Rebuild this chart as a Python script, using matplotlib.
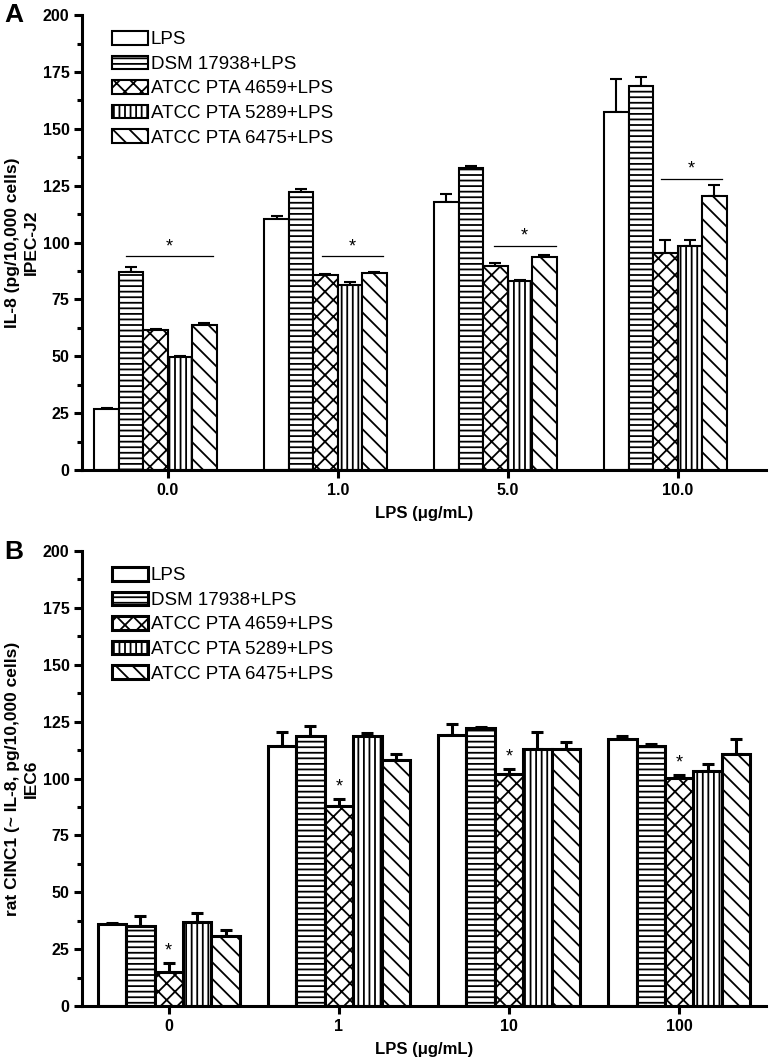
import matplotlib
matplotlib.use("Agg")
import matplotlib.pyplot as plt
import numpy as np
from matplotlib.ticker import MultipleLocator

plt.rcParams['font.family'] = ['Liberation Sans', 'DejaVu Sans']
plt.rcParams['hatch.linewidth'] = 1.3

series = ['LPS', 'DSM 17938+LPS', 'ATCC PTA 4659+LPS', 'ATCC PTA 5289+LPS', 'ATCC PTA 6475+LPS']
hatches = ['', '---', 'xx', '|||', '\\\\']

# panel A: IPEC-J2
groups_a = ['0.0', '1.0', '5.0', '10.0']
means_a = [
    [27.0, 110.3, 117.9, 157.4],
    [87.0, 122.1, 132.9, 168.9],
    [61.5, 85.7, 89.7, 95.3],
    [49.5, 81.3, 83.1, 98.6],
    [63.8, 86.8, 93.6, 120.3],
]
errs_a = [
    [0.5, 1.3, 3.4, 14.5],
    [2.2, 1.3, 0.9, 4.0],
    [0.7, 0.4, 1.3, 5.8],
    [0.5, 1.2, 0.6, 2.7],
    [1.0, 0.4, 0.9, 5.0],
]
sig_a = [93.9, 93.9, 98.5, 127.9]

# panel B: IEC6
groups_b = ['0', '1', '10', '100']
means_b = [
    [36.0, 114.2, 119.0, 117.3],
    [35.1, 118.9, 122.0, 114.4],
    [14.8, 87.9, 101.8, 100.3],
    [37.0, 118.6, 112.8, 103.4],
    [30.8, 108.0, 113.0, 110.6],
]
errs_b = [
    [0.4, 6.3, 4.9, 1.3],
    [4.3, 4.3, 0.5, 1.0],
    [4.0, 3.3, 2.6, 1.2],
    [3.7, 1.4, 7.7, 3.1],
    [2.7, 3.0, 2.9, 6.8],
]

fig = plt.figure(figsize=(7.69, 10.63), dpi=100)
ax_a = fig.add_axes([0.1066, 0.5578, 0.8894, 0.4280])
ax_b = fig.add_axes([0.1066, 0.0536, 0.8894, 0.4280])


def draw(ax, groups, means, errs, lw, w, shift, xlim, ylabel):
    x = np.arange(len(groups))
    for i in range(len(series)):
        pos = x + (i - 2 + shift) * w
        ax.bar(pos, means[i], w, color='white', edgecolor='black', linewidth=lw,
               hatch=hatches[i], label=series[i], zorder=2)
        ax.errorbar(pos, means[i], yerr=[np.zeros(len(groups)), errs[i]], fmt='none',
                    ecolor='black', elinewidth=lw, capsize=4.5, capthick=lw, zorder=1)
    ax.set_xlim(*xlim)
    ax.set_ylim(0, 200)
    ax.set_xticks(x)
    ax.set_xticklabels(groups)
    ax.yaxis.set_major_locator(MultipleLocator(25))
    ax.yaxis.set_minor_locator(MultipleLocator(12.5))
    for s in ['top', 'right']:
        ax.spines[s].set_visible(False)
    for s in ['left', 'bottom']:
        ax.spines[s].set_linewidth(2.2)
    ax.tick_params(axis='both', which='major', width=2.2, length=6, labelsize=11.5, pad=3)
    ax.tick_params(axis='y', which='minor', width=2.2, length=3.5)
    ax.tick_params(axis='x', which='minor', length=0)
    for t in ax.get_xticklabels() + ax.get_yticklabels():
        t.set_fontweight('bold')
    ax.set_xlabel('LPS (μg/mL)', fontsize=12, fontweight='bold', labelpad=6)
    ax.set_ylabel(ylabel, fontsize=12.5, fontweight='bold', labelpad=3, linespacing=1.25)
    leg = ax.legend(loc='upper left', bbox_to_anchor=(0.044, 0.965), frameon=False,
                    fontsize=13.5, handlelength=1.9, handleheight=0.75, handletextpad=0.15,
                    labelspacing=0.38, borderpad=0, borderaxespad=0)
    for p in leg.get_patches():
        p.set_linewidth(lw)


# panel A ticks sit at the right edge of the 4659 bar, panel B ticks at its centre
draw(ax_a, groups_a, means_a, errs_a, 1.5, 0.144, -0.5, (-0.505, 3.52),
     'IL-8 (pg/10,000 cells)\nIPEC-J2')
draw(ax_b, groups_b, means_b, errs_b, 2.2, 0.167, 0.0, (-0.51, 3.51),
     'rat CINC1 (~ IL-8, pg/10,000 cells)\nIEC6')

# significance bars in panel A
spans = [(-0.247, 0.264), (-0.094, 0.264), (-0.082, 0.282), (-0.10, 0.26)]
for g, (lo, hi) in enumerate(spans):
    ax_a.plot([g + lo, g + hi], [sig_a[g], sig_a[g]], color='black', lw=0.9)
    ax_a.text(g + (lo + hi) / 2, sig_a[g] + 0.5, '*', ha='center', va='bottom', fontsize=13)

# stars above ATCC PTA 4659 in panel B
for g in range(len(groups_b)):
    ax_b.text(g, means_b[2][g] + errs_b[2][g] + 1.5, '*', ha='center', va='bottom', fontsize=13)

fig.text(0.006, 0.997, 'A', fontsize=19, fontweight='bold', va='top')
fig.text(0.006, 0.492, 'B', fontsize=19, fontweight='bold', va='top')

fig.savefig('out.png', dpi=100)
